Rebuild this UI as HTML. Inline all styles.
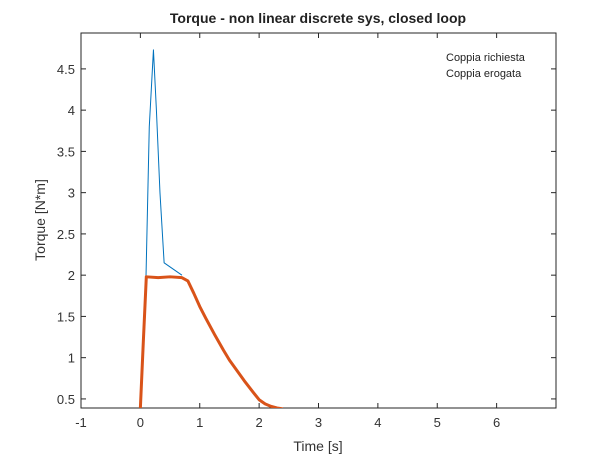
<!DOCTYPE html>
<html><head><meta charset="utf-8"><style>
body{margin:0;background:#fff;font-family:"Liberation Sans",Arial,sans-serif;}
svg{display:block}
</style></head><body>
<svg id="chart" width="613" height="467" font-family="Liberation Sans, Arial, sans-serif">
<rect width="613" height="467" fill="#fff"/>
<g id="axes"></g>
<g id="series" clip-path="url(#clip)"></g>
<defs><clipPath id="clip"><rect x="81" y="33" width="475" height="375"/></clipPath></defs>
<text x="318" y="23" text-anchor="middle" font-size="14" font-weight="bold" fill="#222">Torque - non linear discrete sys, closed loop</text>
<text x="318" y="451" text-anchor="middle" font-size="14" fill="#333">Time [s]</text>
<text transform="translate(45,220) rotate(-90)" text-anchor="middle" font-size="14" fill="#333">Torque [N*m]</text>
<text x="446" y="61" font-size="11" fill="#222">Coppia richiesta</text>
<text x="446" y="77" font-size="11" fill="#222">Coppia erogata</text>
</svg>
<script>
const xTicks=[-1,0,1,2,3,4,5,6];
const yTicks=[0.5,1,1.5,2,2.5,3,3.5,4,4.5];
const yTickLabels=["0.5","1","1.5","2","2.5","3","3.5","4","4.5"];
const reqT=[0,0.08,0.15,0.22,0.27,0.33,0.4,0.5,0.6,0.7];
const reqV=[0.39,1.5,3.8,4.73,4.0,3.0,2.15,2.1,2.05,2.0];
const delT=[0,0.05,0.1,0.3,0.5,0.7,0.8,0.9,1.0,1.1,1.25,1.4,1.5,1.6,1.75,1.9,2.0,2.1,2.2,2.3,2.4];
const delV=[0.39,1.2,1.98,1.97,1.98,1.97,1.93,1.78,1.62,1.48,1.28,1.09,0.97,0.87,0.72,0.58,0.49,0.44,0.41,0.39,0.38];
const X0=81,X1=556,Y0=408,Y1=33,xmin=-1,xmax=7,ymin=0.39,ymax=4.935;
const sx=v=>X0+(v-xmin)/(xmax-xmin)*(X1-X0);
const sy=v=>Y0-(v-ymin)/(ymax-ymin)*(Y0-Y1);
const NS="http://www.w3.org/2000/svg";
const ax=document.getElementById('axes'),se=document.getElementById('series');
function mk(p,t,a){const e=document.createElementNS(NS,t);for(const k in a)e.setAttribute(k,a[k]);p.appendChild(e);return e;}
const box=mk(ax,'rect',{x:X0,y:Y1,width:X1-X0,height:Y0-Y1,fill:'none',stroke:'#262626','stroke-width':1});


xTicks.forEach(t=>{const x=sx(t);
mk(ax,'line',{x1:x,x2:x,y1:Y0,y2:Y0-5,stroke:'#262626'});
mk(ax,'line',{x1:x,x2:x,y1:Y1,y2:Y1+5,stroke:'#262626'});
const tx=mk(ax,'text',{x:x,y:Y0+19,'text-anchor':'middle','font-size':13,fill:'#333'});tx.textContent=t;

});
yTicks.forEach((t,i)=>{const y=sy(t);
mk(ax,'line',{x1:X0,x2:X0+5,y1:y,y2:y,stroke:'#262626'});
mk(ax,'line',{x1:X1,x2:X1-5,y1:y,y2:y,stroke:'#262626'});
const tx=mk(ax,'text',{x:X0-6,y:y+5,'text-anchor':'end','font-size':13,fill:'#333'});tx.textContent=yTickLabels[i];

});
function line(T,V,c,w,name){const p=mk(se,'polyline',{points:T.map((t,i)=>sx(t)+','+sy(V[i])).join(' '),fill:'none',stroke:c,'stroke-width':w,'stroke-linejoin':'round'});

}
line(reqT,reqV,'#0072bd',1,'line-coppia-richiesta');
line(delT,delV,'#d95319',3,'line-coppia-erogata');
</script>
</body></html>
